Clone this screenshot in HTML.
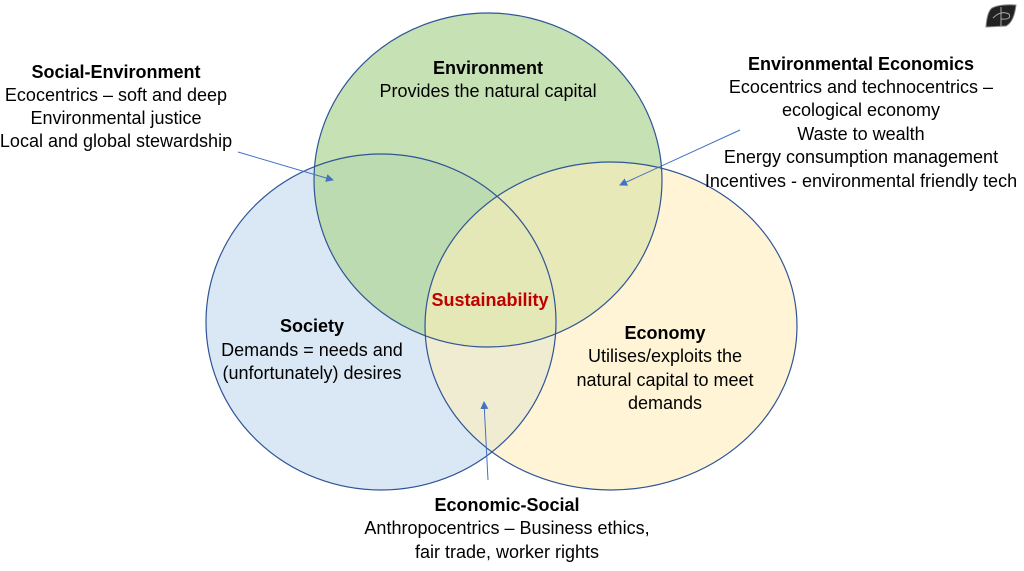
<!DOCTYPE html>
<html><head><meta charset="utf-8"><style>
body{margin:0;background:#fff;}
svg{display:block;font-family:"Liberation Sans",sans-serif;}
</style></head><body>
<svg width="1024" height="571" viewBox="0 0 1024 571">
<defs><marker id="a" markerWidth="8" markerHeight="8" refX="7" refY="4" orient="auto" markerUnits="userSpaceOnUse"><path d="M0,0 L8,4 L0,8 z" fill="#4472c4"/></marker></defs>
<ellipse cx="381" cy="322" rx="175" ry="168" fill="#d6e5f4" fill-opacity="0.9"/>
<ellipse cx="488" cy="180" rx="174" ry="167" fill="#b0d595" fill-opacity="0.72"/>
<ellipse cx="611" cy="326" rx="186" ry="164" fill="#ffeebb" fill-opacity="0.6"/>
<ellipse cx="381" cy="322" rx="175" ry="168" fill="none" stroke="#2f5597" stroke-width="1.2"/>
<ellipse cx="488" cy="180" rx="174" ry="167" fill="none" stroke="#2f5597" stroke-width="1.2"/>
<ellipse cx="611" cy="326" rx="186" ry="164" fill="none" stroke="#2f5597" stroke-width="1.2"/>
<line x1="238" y1="152" x2="333" y2="180" stroke="#4472c4" stroke-width="1" marker-end="url(#a)"/>
<line x1="740" y1="130" x2="620" y2="185" stroke="#4472c4" stroke-width="1" marker-end="url(#a)"/>
<line x1="488" y1="480" x2="484" y2="402" stroke="#4472c4" stroke-width="1" marker-end="url(#a)"/>
<g font-size="18" fill="#000" text-anchor="middle">
<text x="488" y="74" font-weight="bold">Environment</text>
<text x="488" y="97">Provides the natural capital</text>
<text x="116" y="78" font-weight="bold">Social-Environment</text>
<text x="116" y="101">Ecocentrics – soft and deep</text>
<text x="116" y="124">Environmental justice</text>
<text x="116" y="147">Local and global stewardship</text>
<text x="861" y="70" font-weight="bold">Environmental Economics</text>
<text x="861" y="93">Ecocentrics and technocentrics –</text>
<text x="861" y="116">ecological economy</text>
<text x="861" y="140">Waste to wealth</text>
<text x="861" y="163">Energy consumption management</text>
<text x="861" y="187">Incentives - environmental friendly tech</text>
<text x="312" y="332" font-weight="bold">Society</text>
<text x="312" y="356">Demands = needs and</text>
<text x="312" y="379">(unfortunately) desires</text>
<text x="665" y="339" font-weight="bold">Economy</text>
<text x="665" y="362">Utilises/exploits the</text>
<text x="665" y="386">natural capital to meet</text>
<text x="665" y="409">demands</text>
<text x="490" y="306" font-weight="bold" fill="#c00000">Sustainability</text>
<text x="507" y="511" font-weight="bold">Economic-Social</text>
<text x="507" y="534">Anthropocentrics – Business ethics,</text>
<text x="507" y="558">fair trade, worker rights</text>
</g>
<path d="M992,8 Q1000,4 1016,5 Q1014,22 1006,26 L986,27 Q987,12 992,8z" fill="#222" stroke="#888" stroke-width="1"/>
<path d="M1001,7 L1001,26 M993,18 Q1001,10 1009,14 Q1012,20 1001,19" stroke="#aaa" fill="none" stroke-width="1"/>
</svg>
</body></html>
